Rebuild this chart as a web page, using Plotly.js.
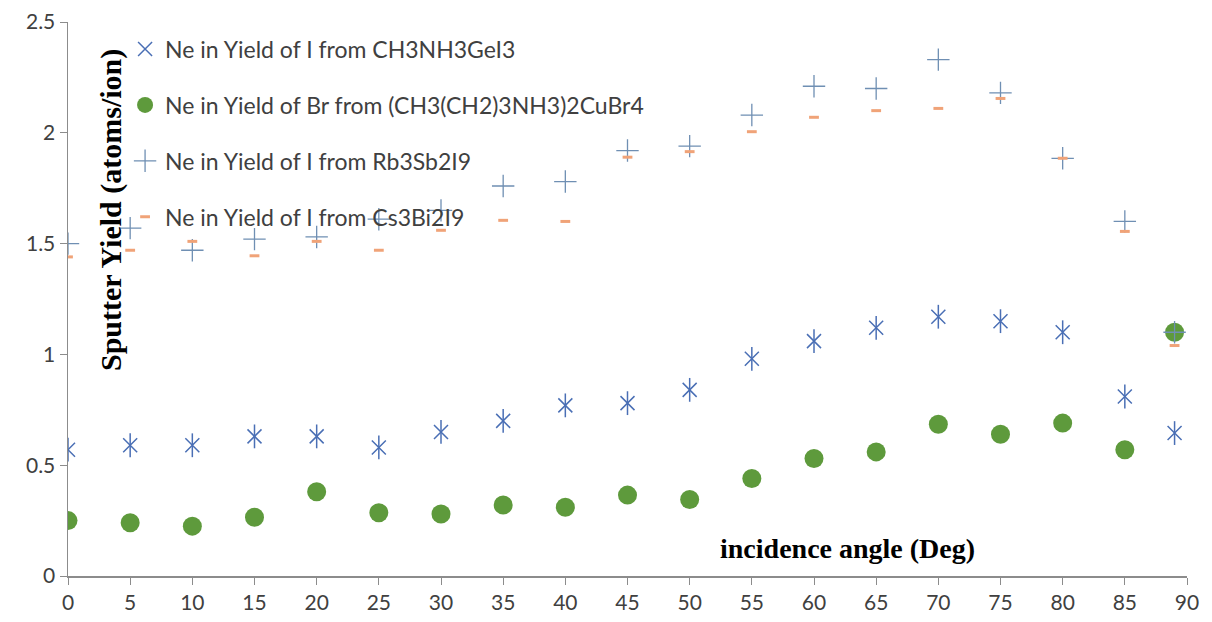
<!DOCTYPE html>
<html>
<head>
<meta charset="utf-8">
<script src="https://cdn.plot.ly/plotly-3.0.1.min.js"></script>
<style>html,body{margin:0;padding:0;background:#fff;}#chart{width:1212px;height:622px;}</style>
</head>
<body>
<div id="chart"></div>
<script>
var angles = [0,5,10,15,20,25,30,35,40,45,50,55,60,65,70,75,80,85,89];
var yieldGeI3 = [0.57,0.59,0.59,0.63,0.63,0.58,0.65,0.70,0.77,0.78,0.84,0.98,1.06,1.12,1.17,1.15,1.10,0.81,0.645];
var yieldCuBr4 = [0.25,0.24,0.225,0.265,0.38,0.285,0.28,0.32,0.31,0.365,0.345,0.44,0.53,0.56,0.685,0.64,0.69,0.57,1.10];
var yieldRb3Sb2I9 = [1.50,1.57,1.47,1.52,1.53,1.61,1.65,1.76,1.78,1.92,1.94,2.08,2.21,2.20,2.33,2.18,1.885,1.60,1.10];
var yieldCs3Bi2I9 = [1.44,1.47,1.51,1.445,1.51,1.47,1.56,1.605,1.60,1.89,1.915,2.005,2.07,2.10,2.11,2.155,1.885,1.555,1.04];
var tickVals = [0,5,10,15,20,25,30,35,40,45,50,55,60,65,70,75,80,85,90];
var tickText = ["0","5","10","15","20","25","30","35","40","45","50","55","60","65","70","75","80","85","90"];
var seriesNames = [
  "Ne in Yield of I from CH3NH3GeI3",
  "Ne in Yield of Br from (CH3(CH2)3NH3)2CuBr4",
  "Ne in Yield of I from Rb3Sb2I9",
  "Ne in Yield of I from Cs3Bi2I9"
];
var xTitle = "incidence angle (Deg)";
var yTitle = "Sputter Yield (atoms/ion)";

var traces = [
  {x: angles, y: yieldGeI3, name: seriesNames[0], type: "scatter", mode: "markers", legendgroup: "g1",
   marker: {symbol: "x-thin-open", size: 14, color: "#4a6fb5", line: {color: "#4a6fb5", width: 1.5}}},
  {x: angles, y: yieldGeI3, name: seriesNames[0], type: "scatter", mode: "markers", legendgroup: "g1", showlegend: false,
   marker: {symbol: "line-ns-open", size: 17, color: "#4a6fb5", line: {color: "#4a6fb5", width: 1.5}}},
  {x: angles, y: yieldCuBr4, name: seriesNames[1], type: "scatter", mode: "markers", legendgroup: "g2",
   marker: {symbol: "circle", size: 19, color: "#5e9a3c"}},
  {x: angles, y: yieldRb3Sb2I9, name: seriesNames[2], type: "scatter", mode: "markers", legendgroup: "g3",
   marker: {symbol: "cross-thin-open", size: 16, color: "#6f8fb3", line: {color: "#6f8fb3", width: 1.3}}},
  {x: angles, y: yieldCs3Bi2I9, name: seriesNames[3], type: "scatter", mode: "markers", legendgroup: "g4",
   marker: {symbol: "line-ew-open", size: 7, color: "#f0a378", line: {color: "#f0a378", width: 3}}}
];

var layout = {
  width: 1212, height: 622,
  margin: {l: 68, r: 25, t: 22, b: 46, pad: 0},
  paper_bgcolor: "#ffffff", plot_bgcolor: "#ffffff",
  font: {family: "Lato, 'Open Sans', sans-serif", size: 20, color: "#404040"},
  xaxis: {
    range: [0, 90], tickmode: "array", tickvals: tickVals, ticktext: tickText,
    showgrid: false, zeroline: false, showline: true, linecolor: "#8c8c8c", linewidth: 1.5,
    ticks: "outside", ticklen: 7, tickcolor: "#8c8c8c", tickwidth: 1,
    tickfont: {family: "Lato, sans-serif", size: 21, color: "#404040"}
  },
  yaxis: {
    range: [0, 2.5], dtick: 0.5, tick0: 0,
    showgrid: false, zeroline: false, showline: true, linecolor: "#8c8c8c", linewidth: 1.5,
    ticks: "outside", ticklen: 7, tickcolor: "#8c8c8c", tickwidth: 1,
    tickfont: {family: "Lato, sans-serif", size: 21, color: "#404040"}
  },
  showlegend: true,
  legend: {
    x: 0.051, y: 0.99, xanchor: "left", yanchor: "top",
    bgcolor: "rgba(255,255,255,0)", borderwidth: 0,
    traceorder: "grouped", tracegroupgap: 23,
    font: {family: "Lato, sans-serif", size: 23, color: "#404040"},
    itemsizing: "trace"
  },
  annotations: [
    {xref: "paper", yref: "paper", x: 0.697, y: 0.049, xanchor: "center", yanchor: "middle",
     text: "<b>" + xTitle + "</b>", showarrow: false,
     font: {family: "'Liberation Serif', 'DejaVu Serif', serif", size: 28, color: "#000000"}},
    {xref: "paper", yref: "paper", x: 0.039, y: 0.66, xanchor: "center", yanchor: "middle",
     text: "<b>" + yTitle + "</b>", showarrow: false, textangle: -90,
     font: {family: "'Liberation Serif', 'DejaVu Serif', serif", size: 30, color: "#000000"}}
  ]
};

Plotly.newPlot("chart", traces, layout, {displayModeBar: false, staticPlot: true});
</script>
</body>
</html>
